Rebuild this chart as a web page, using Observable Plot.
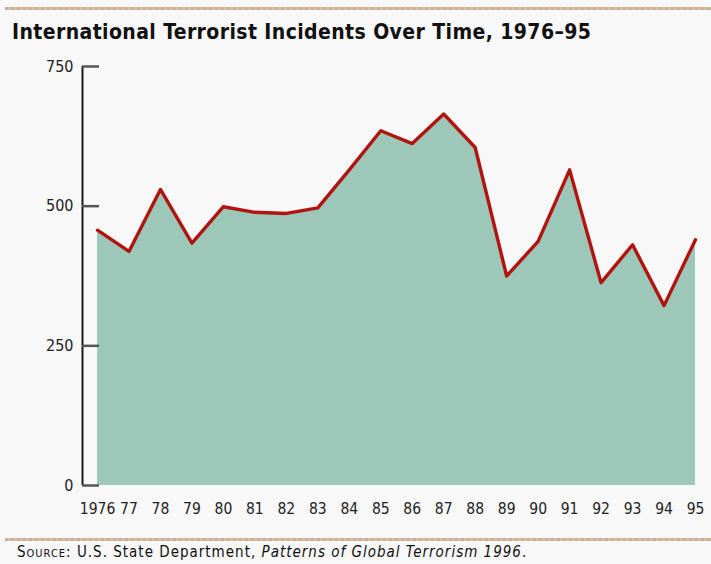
<!DOCTYPE html>
<html>
<head>
<meta charset="utf-8">
<script src="https://cdn.jsdelivr.net/npm/d3@7"></script>
<script src="https://cdn.jsdelivr.net/npm/@observablehq/plot@0.6"></script>
<style>
  html, body { margin: 0; padding: 0; background: #f8f8f8; }
  #page { position: relative; width: 711px; height: 564px; overflow: hidden; background: #f8f8f8; }
  .dots { position: absolute; left: 5px; right: 0; height: 3px;
    background: repeating-linear-gradient(90deg, #d9a3ad 0 3px, #c9c98e 3px 6px); }
  #title { position: absolute; left: 12px; top: 20px; font-family: "Liberation Sans Narrow", "DejaVu Sans Condensed", "Liberation Sans", sans-serif;
    font-weight: bold; font-size: 21px; color: #111; white-space: nowrap; letter-spacing: 0.4px; }
  #chart { position: absolute; left: 0; top: 0; }
  #source { position: absolute; left: 17px; top: 543px; font-family: "Liberation Sans Narrow", "DejaVu Sans Condensed", "Liberation Sans", sans-serif;
    font-size: 15px; color: #111; white-space: nowrap; letter-spacing: 1px; }
  #source .sc { font-variant: small-caps; }
</style>
</head>
<body>
<div id="page">
  <div class="dots" style="top:7px"></div>
  <div id="title">International Terrorist Incidents Over Time, 1976–95</div>
  <div id="chart"></div>
  <div class="dots" style="top:538px"></div>
  <div id="source"><span class="sc">Source</span>: U.S. State Department, <i>Patterns of Global Terrorism 1996</i>.</div>
</div>
<script>
const years = [1976,1977,1978,1979,1980,1981,1982,1983,1984,1985,1986,1987,1988,1989,1990,1991,1992,1993,1994,1995];
const incidents = [457,419,530,434,499,489,487,497,565,635,612,665,605,375,437,565,363,431,322,440];
const yearLabels = ["1976","77","78","79","80","81","82","83","84","85","86","87","88","89","90","91","92","93","94","95"];
const yTicks = [0,250,500,750];

const data = years.map((y,i) => ({year: y, value: incidents[i], label: yearLabels[i]}));
const font = '"Liberation Sans Narrow", "DejaVu Sans Condensed", "Liberation Sans", sans-serif';

const chart = Plot.plot({
  width: 711,
  height: 530,
  marginTop: 66,
  marginBottom: 45,
  marginLeft: 97,
  marginRight: 16,
  style: {background: "transparent", fontFamily: font, fontSize: "15px", color: "#222"},
  x: {domain: [1976, 1995], axis: null},
  y: {domain: [0, 750], label: null},
  marks: [
    Plot.areaY(data, {x: "year", y: "value", fill: "#9dc7b9"}),
    Plot.lineY(data, {x: "year", y: "value", stroke: "#b0140f", strokeWidth: 3.4, strokeLinejoin: "round"}),
    Plot.ruleX([1976], {y1: 0, y2: 750, dx: -15, stroke: "#1a1a1a", strokeWidth: 2}),
    Plot.ruleY(yTicks, {x1: 1976, x2: 1976, insetLeft: -15, insetRight: -2, stroke: "#555", strokeWidth: 2.5}),
    Plot.axisY({ticks: yTicks, tickSize: 0, tickPadding: 24, tickFormat: d => String(d), fontSize: 16, label: null}),
    Plot.text(data, {x: "year", text: "label", frameAnchor: "bottom", dy: 28, fontSize: 15.5, fill: "#222"})
  ]
});
document.getElementById("chart").appendChild(chart);
</script>
</body>
</html>
